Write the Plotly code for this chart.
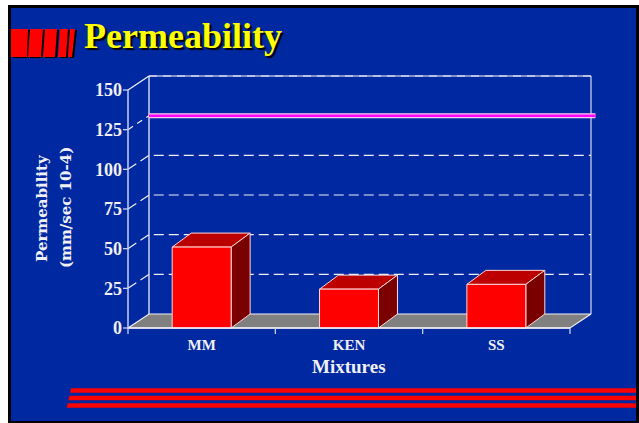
import plotly.graph_objects as go

# ---------------- data ----------------
categories = ["MM", "KEN", "SS"]
permeability = [51, 24.5, 27.5]
y_ticks = [0, 25, 50, 75, 100, 125, 150]
grid_values = [25, 50, 75, 100, 125, 150]
target_value = 125
title_text = "Permeability"
y_title_lines = ["Permeability", "(mm/sec 10-4)"]
x_title = "Mixtures"

# ---------------- geometry / style ----------------
W, H = 639, 423
L, R, T, B = 123, 607, 60, 334          # plot area in px
FX0, FX1 = 128, 570                      # front x-axis ends (px)
FY0, FY150 = 328, 90                     # front y for 0 and 150 (px)
kx = (FX1 - FX0) / 3.0
ky = (FY0 - FY150) / 150.0
x0 = -0.5 - (FX0 - L) / kx
x1 = x0 + (R - L) / kx
y0 = -(B - FY0) / ky
y1 = (FY0 - T) / ky
DX, DY = 21 / kx, 14 / ky                # wall depth
BDX, BDY = 19 / kx, 14 / ky              # bar depth
BAR_W = 0.40

BG = "rgb(0,40,160)"
WHITE = "rgb(240,240,245)"
LIGHT = "rgb(170,182,225)"
FLOOR = "rgb(128,128,128)"
RED_F, RED_T, RED_S = "rgb(255,0,0)", "rgb(188,0,0)", "rgb(122,0,0)"
EDGE = "rgb(255,215,215)"


def px(xp):
    return (xp - L) / (R - L)


def py(yp):
    return (B - yp) / (B - T)


fig = go.Figure()


def line(xs, ys, color, width=1.2, dash=None):
    fig.add_trace(go.Scatter(x=xs, y=ys, mode="lines", hoverinfo="skip",
                             line=dict(color=color, width=width, dash=dash),
                             showlegend=False))


def poly(xs, ys, fill, edge=EDGE, width=1):
    fig.add_trace(go.Scatter(x=xs + [xs[0]], y=ys + [ys[0]], mode="lines",
                             fill="toself", fillcolor=fill, hoverinfo="skip",
                             line=dict(color=edge, width=width), showlegend=False))


xl, xr = -0.5, len(categories) - 0.5
top = y_ticks[-1]

# back wall edges
line([xl + DX, xl + DX], [DY, top + DY], WHITE, 1.3)
line([xl + DX, xr + DX], [top + DY, top + DY], LIGHT, 1.5)
line([xr + DX, xr + DX], [DY, top + DY], LIGHT, 1.5)

# dashed gridlines (diagonal + back wall)
for v in grid_values:
    if v == target_value:
        line([xl, xl + DX], [v, v + DY], WHITE, 1.2, "6px,5px")
    elif v == top:
        line([xl, xl + DX], [v, v + DY], WHITE, 1.3)
        line([xl + DX, xr + DX], [v + DY, v + DY], WHITE, 1.2, "8px,6px")
    else:
        line([xl, xl + DX, xr + DX], [v, v + DY, v + DY], WHITE, 1.2, "10px,5px")

# target line
line([xl + DX, xr + DX + 0.03], [target_value + DY] * 2, "rgb(255,200,240)", 5)
line([xl + DX, xr + DX + 0.03], [target_value + DY] * 2, "rgb(255,0,255)", 2.5)

# floor
poly([xl, xr, xr + DX, xl + DX], [0, 0, DY, DY], FLOOR, WHITE, 1.2)

# bars
for i, v in enumerate(permeability):
    a, b = i - BAR_W / 2, i + BAR_W / 2
    poly([a, a + BDX, b + BDX, b], [v, v + BDY, v + BDY, v], RED_T)
    poly([b, b + BDX, b + BDX, b], [0, BDY, v + BDY, v], RED_S)
    poly([a, b, b, a], [0, 0, v, v], RED_F)

# front axes
line([xl, xr], [0, 0], WHITE, 1.5)
line([xl, xl], [0, top], "rgb(200,208,240)", 1.5)
for v in y_ticks:
    line([x0, xl], [v, v], "rgb(200,208,240)", 1.3)
for bx in [xl + k for k in range(len(categories) + 1)]:
    line([bx, bx], [0, y0], "rgb(200,208,240)", 1.3)

# ---------------- decorations ----------------
shapes = [
    dict(type="rect", xref="paper", yref="paper", x0=px(8), x1=px(639),
         y0=py(5), y1=py(423), fillcolor="black", line_width=0, layer="below"),
    dict(type="rect", xref="paper", yref="paper", x0=px(11), x1=px(636),
         y0=py(8), y1=py(421), fillcolor=BG, line_width=0, layer="below"),
]


def para(xt0, xt1, xb0, xb1, yt, yb, color):
    return dict(type="path", xref="paper", yref="paper", layer="below",
                path=(f"M {px(xt0)},{py(yt)} L {px(xt1)},{py(yt)} "
                      f"L {px(xb1)},{py(yb)} L {px(xb0)},{py(yb)} Z"),
                fillcolor=color, line_width=0)


blocks = [(11, 28, 11, 27), (30, 43, 28, 41), (45, 57, 43, 55),
          (60, 68, 58, 66), (70, 75, 68, 72)]
for (a, b, c, d) in blocks:
    shapes.append(para(a + 2, b + 2, c + 2, d + 2, 30, 58, "black"))
for (a, b, c, d) in blocks:
    shapes.append(para(a, b, c, d, 29, 57, "rgb(255,0,0)"))

for (lt, lb, yt, yb) in [(71, 70, 388.3, 392.8), (69.3, 68.3, 395.7, 400.2),
                         (67.7, 66.7, 403.3, 407.8)]:
    shapes.append(para(lt, 636, lb, 636, yt, yb, "rgb(255,0,0)"))

annotations = [
    dict(text=title_text, xref="paper", yref="paper", x=px(82), y=py(36),
         xanchor="left", yanchor="middle", showarrow=False,
         font=dict(family="Liberation Serif", size=36, color="rgb(255,255,0)",
                   weight="bold", shadow="2px 2px 1px black")),
    dict(text=x_title, xref="x", yref="paper", x=1.0, y=py(366),
         xanchor="center", yanchor="middle", showarrow=False,
         font=dict(family="Liberation Serif", size=19, color=WHITE, weight="bold")),
]
for txt, xc in zip(y_title_lines, [42, 66]):
    annotations.append(dict(
        text=txt, xref="paper", yref="paper", x=px(xc), y=py(208),
        xanchor="center", yanchor="middle", textangle=-90, showarrow=False,
        font=dict(family="DejaVu Serif", size=15, color=WHITE, weight="bold")))

fig.update_layout(
    width=W, height=H,
    margin=dict(l=L, r=W - R, t=T, b=H - B, pad=0),
    paper_bgcolor="white", plot_bgcolor="rgba(0,0,0,0)",
    shapes=shapes, annotations=annotations, showlegend=False,
    xaxis=dict(range=[x0, x1], tickvals=list(range(len(categories))),
               ticktext=categories, ticks="", showgrid=False, zeroline=False,
               showline=False, fixedrange=True,
               tickfont=dict(family="Liberation Serif", size=15, color=WHITE, weight="bold")),
    yaxis=dict(range=[y0, y1], tickvals=y_ticks, ticks="", showgrid=False,
               zeroline=False, showline=False, fixedrange=True,
               tickfont=dict(family="Liberation Serif", size=18, color=WHITE, weight="bold")),
)

fig.write_html("out.html", config={"displayModeBar": False},
               post_script="document.body.style.margin='0';document.body.style.overflow='hidden';")
